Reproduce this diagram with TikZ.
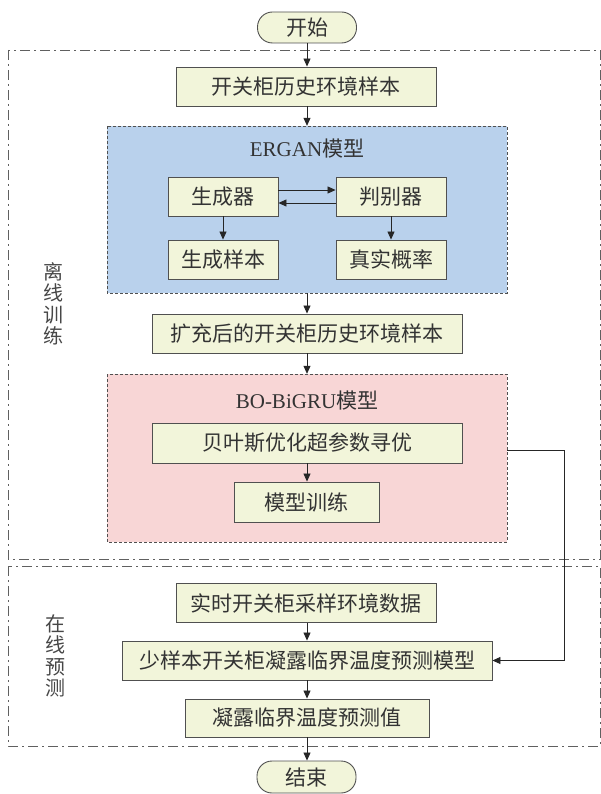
\documentclass[tikz,border=0pt]{standalone}
\usepackage{fontspec}
\setmainfont{Noto Sans CJK SC}
\newfontfamily\latinserif{Liberation Serif}
\usetikzlibrary{arrows.meta}
\definecolor{boxfill}{HTML}{F2F5DA}
\definecolor{boxline}{HTML}{505050}
\definecolor{erganfill}{HTML}{B9D1EC}
\definecolor{bofill}{HTML}{F8D6D6}
\definecolor{txt}{HTML}{333333}
\definecolor{frameline}{HTML}{606060}
\begin{document}
\begin{tikzpicture}[x=1pt,y=-1pt,
  every node/.style={text=txt, inner sep=0pt, font=\fontsize{21}{24}\selectfont},
  stepbox/.style={draw=boxline, line width=0.9pt, fill=boxfill, minimum height=39pt},
  termbox/.style={draw=boxline, line width=0.9pt, fill=boxfill, minimum width=99pt, minimum height=31pt, rounded corners=15pt},
  modelbox/.style={draw=boxline, line width=0.9pt, dash pattern=on 3pt off 2pt},
  phase/.style={draw=frameline, line width=0.8pt, dash pattern=on 10pt off 4pt on 2pt off 4pt},
  flow/.style={draw=black!85, line width=0.8pt, -{Triangle[length=8pt,width=7pt]}},
  sidelabel/.style={align=center, font=\fontsize{20}{21.5}\selectfont, text=txt!90}
]
\useasboundingbox (0,0) rectangle (601,794);
% phase frames
\draw[phase] (8,50) rectangle (600,559);
\draw[phase] (8,566) rectangle (600,746);
% model frames
\draw[modelbox, fill=erganfill] (107,126) rectangle (507,293);
\draw[modelbox, fill=bofill] (107,374) rectangle (507,542);
\node[minimum width=400pt, minimum height=167pt] (ergan) at (307,209.5) {};
\node[minimum width=400pt, minimum height=168pt] (bo) at (307,458) {};
\node at (307,149) {{\latinserif ERGAN}模型};
\node at (307,401) {{\latinserif BO-BiGRU}模型};
% side labels
\node[sidelabel] (off) at (53,304) {离\\线\\训\\练};
\node[sidelabel] (on) at (55,656) {在\\线\\预\\测};
% nodes
\node[termbox] (start) at (307,27.5) {开始};
\node[stepbox, minimum width=260pt] (b1) at (306,86.5) {开关柜历史环境样本};
\node[stepbox, minimum width=110pt] (gen) at (223,196.5) {生成器};
\node[stepbox, minimum width=110pt] (dis) at (391,196.5) {判别器};
\node[stepbox, minimum width=110pt] (gs) at (223,259.5) {生成样本};
\node[stepbox, minimum width=110pt] (zs) at (391,259.5) {真实概率};
\node[stepbox, minimum width=310pt] (kc) at (307,333.5) {扩充后的开关柜历史环境样本};
\node[stepbox, minimum width=310pt, minimum height=40pt] (bys) at (307,443) {贝叶斯优化超参数寻优};
\node[stepbox, minimum width=145pt, minimum height=40pt] (mx) at (306.5,502) {模型训练};
\node[stepbox, minimum width=260pt] (ss) at (306,603) {实时开关柜采样环境数据};
\node[stepbox, minimum width=370pt] (sy) at (307,660.5) {少样本开关柜凝露临界温度预测模型};
\node[stepbox, minimum width=244pt, minimum height=38pt] (nl) at (307,718) {凝露临界温度预测值};
\node[termbox, minimum height=32pt] (end) at (306.5,777) {结束};
% connectors
\draw[flow] (start.south) -- (start.south |- b1.north);
\draw[flow] (b1.south -| start.south) -- (start.south |- ergan.north);
\draw[flow] (ergan.south -| start.south) -- (start.south |- kc.north);
\draw[flow] (kc.south -| start.south) -- (start.south |- bo.north);
\draw[flow] (bys.south -| start.south) -- (start.south |- mx.north);
\draw[flow] (gen.south) -- (gs.north);
\draw[flow] (dis.south) -- (zs.north);
\draw[flow] ([yshift=6.5pt]gen.east) -- ([yshift=6.5pt]dis.west);
\draw[flow] ([yshift=-6.5pt]dis.west) -- ([yshift=-6.5pt]gen.east);
\draw[flow] (ss.south -| start.south) -- (start.south |- sy.north);
\draw[flow] (sy.south -| start.south) -- (start.south |- nl.north);
\draw[flow] (nl.south -| start.south) -- (start.south |- end.north);
\draw[flow] ([yshift=8pt]bo.east) -- ++(57,0) |- (sy.east);
\end{tikzpicture}
\end{document}
